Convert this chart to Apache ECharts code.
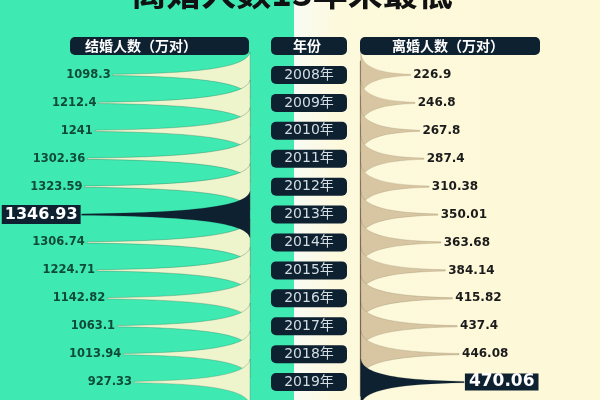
<!DOCTYPE html>
<html>
<head>
<meta charset="utf-8">
<script src="https://cdn.jsdelivr.net/npm/echarts@6/dist/echarts.min.js"></script>
<style>
html,body{margin:0;padding:0;}
#c{width:600px;height:400px;}
</style>
</head>
<body>
<div id="c"></div>
<script>
const years = ['2008年','2009年','2010年','2011年','2012年','2013年','2014年','2015年','2016年','2017年','2018年','2019年'];
const marriages = [1098.3, 1212.4, 1241, 1302.36, 1323.59, 1346.93, 1306.74, 1224.71, 1142.82, 1063.1, 1013.94, 927.33];
const divorces = [226.9, 246.8, 267.8, 287.4, 310.38, 350.01, 363.68, 384.14, 415.82, 437.4, 446.08, 470.06];
const titleText = '离婚人数13年来最低';
const headerLeft = '结婚人数（万对）';
const headerMid = '年份';
const headerRight = '离婚人数（万对）';

const NAVY = '#0e2131';
const spike = 'path://M0,0 C2,14 25,23 100,24.3 L100,25.7 C25,27 2,36 0,50 Z';
const mMax = marriages.indexOf(Math.max(...marriages));
const dMax = divorces.indexOf(Math.max(...divorces));

const chart = echarts.init(document.getElementById('c'));
const labelFont = 'DejaVu Sans, Noto Sans CJK SC, sans-serif';

function headerBox(x, w, text, tx, align) {
  return {
    type: 'group',
    children: [
      { type: 'rect', shape: { x: x, y: 37, width: w, height: 18, r: 5 }, style: { fill: NAVY } },
      { type: 'text', x: tx, y: 46, style: { text: text, fill: '#ffffff', font: 'bold 14px "Noto Sans CJK SC", sans-serif', textAlign: align, textVerticalAlign: 'middle' } }
    ]
  };
}

chart.setOption({
  animation: false,
  graphic: [
    { type: 'rect', z: -10, shape: { x: 0, y: 0, width: 294, height: 400 }, style: { fill: '#3fe9b2' } },
    { type: 'rect', z: -10, shape: { x: 294, y: 0, width: 306, height: 400 },
      style: { fill: { type: 'linear', x: 0, y: 0, x2: 1, y2: 0, colorStops: [
        { offset: 0, color: '#f9fbf4' }, { offset: 0.15, color: '#fdf9dc' }, { offset: 1, color: '#fdf8d6' } ] } } },
    { type: 'text', x: 292, y: -25, style: { text: titleText, fill: '#111111', font: 'bold 35px "Noto Sans CJK SC", sans-serif', textAlign: 'center', textVerticalAlign: 'top' } },
    headerBox(70, 179, headerLeft, 85, 'left'),
    headerBox(271, 76, headerMid, 307, 'center'),
    headerBox(360, 180, headerRight, 448, 'center')
  ],
  grid: [
    { left: 49, right: 351, top: 61, bottom: 4 },
    { left: 360, right: 20, top: 61, bottom: 4 }
  ],
  xAxis: [
    { gridIndex: 0, type: 'value', inverse: true, min: 0, max: 1600, show: false },
    { gridIndex: 1, type: 'value', min: 0, max: 1000, show: false }
  ],
  yAxis: [
    { gridIndex: 0, type: 'category', data: years, inverse: true, position: 'right',
      axisLine: { show: true, lineStyle: { color: '#a9b996', width: 1.5 } }, axisTick: { show: false }, axisLabel: { show: false } },
    { gridIndex: 1, type: 'category', data: years, inverse: true, position: 'left',
      axisLine: { show: true, lineStyle: { color: '#6e6452', width: 1.2 } }, axisTick: { show: false },
      axisLabel: { show: true, margin: 51, align: 'center', verticalAlign: 'middle', color: '#d3dde2', fontSize: 14, lineHeight: 14,
        fontFamily: labelFont, backgroundColor: NAVY, borderRadius: 5, padding: [2, 6, 2, 6], width: 64 } }
  ],
  series: [
    { type: 'pictorialBar', xAxisIndex: 0, yAxisIndex: 0, symbol: spike, symbolSize: ['100%', 46], symbolPosition: 'start',
      data: marriages.map((v, i) => i === mMax ? '-' : v),
      itemStyle: { color: '#eef4cb', borderColor: '#2a6a4f', borderWidth: 1.3 },
      label: { show: true, position: 'left', distance: 1, color: '#0f4b37', fontSize: 11.5, fontWeight: 'bold', fontFamily: labelFont } },
    { type: 'pictorialBar', xAxisIndex: 0, yAxisIndex: 0, symbol: spike, symbolSize: ['100%', 46], symbolPosition: 'start', z: 3,
      data: marriages.map((v, i) => i === mMax ? v : '-'),
      itemStyle: { color: NAVY, borderColor: NAVY, borderWidth: 1 },
      label: { show: true, position: 'left', distance: 0, color: '#ffffff', fontSize: 16, fontWeight: 'bold', fontFamily: labelFont,
        backgroundColor: NAVY, padding: [1, 3, 1, 3], lineHeight: 17 } },
    { type: 'pictorialBar', xAxisIndex: 1, yAxisIndex: 1, symbol: spike, symbolSize: ['100%', 46], symbolPosition: 'start',
      data: divorces.map((v, i) => i === dMax ? '-' : v),
      itemStyle: { color: '#d8c6a2', borderColor: '#6f5f42', borderWidth: 1.3 },
      label: { show: true, position: 'right', distance: 2, color: '#1b1b1b', fontSize: 12, fontWeight: 'bold', fontFamily: labelFont } },
    { type: 'pictorialBar', xAxisIndex: 1, yAxisIndex: 1, symbol: spike, symbolSize: ['100%', 46], symbolPosition: 'start', z: 3,
      data: divorces.map((v, i) => i === dMax ? v : '-'),
      itemStyle: { color: NAVY, borderColor: NAVY, borderWidth: 1 },
      label: { show: true, position: 'right', distance: 0, color: '#ffffff', fontSize: 17, fontWeight: 'bold', fontFamily: labelFont,
        backgroundColor: NAVY, padding: [0, 4, 0, 4], lineHeight: 17 } }
  ]
});
</script>
</body>
</html>
